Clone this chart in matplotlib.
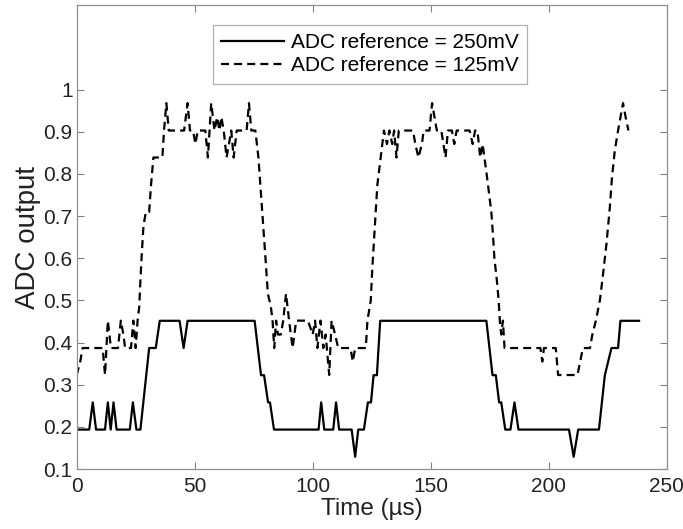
import matplotlib as mpl
mpl.use('Agg')
import matplotlib.pyplot as plt
import numpy as np

plt.rcParams['font.family'] = ['Liberation Sans Narrow', 'Liberation Sans', 'DejaVu Sans']

# ADC levels (fractions of full scale, 5-bit style quantisation)
L0, L1, L2, L3, L4, L5 = 4/31, 6/31, 8/31, 10/31, 12/31, 14/31

# ADC reference = 250mV : breakpoints (time in us, output)
t_250 = [0, 5.3, 6.8, 8.2, 12, 13.2, 14.4, 15.6, 16.9, 22.5, 23.8, 25.3, 27,
         30.7, 33.5, 35.2, 43.6, 45.3, 47, 75.4, 78.1, 79.4, 81.1, 81.9, 83.6,
         102.5, 103.6, 104.9, 108.7, 109.9, 111.2, 116.5, 118, 119.3, 121.7,
         123.4, 124.7, 125.8, 127.2, 128.6, 173.6, 176.2, 177.6, 179, 179.9,
         181.6, 183.8, 185.5, 187.2, 208.6, 210.6, 212.5, 221.3, 223.8, 226.6,
         229.4, 230.4, 238.3]
v_250 = [L1, L1, L2, L1, L1, L2, L1, L2, L1, L1, L2, L1, L1,
         L4, L4, L5, L5, L4, L5, L5, L3, L3, L2, L2, L1,
         L1, L2, L1, L1, L2, L1, L1, L0, L1, L1,
         L2, L2, L3, L3, L5, L5, L3, L3, L2, L2,
         L1, L1, L2, L1, L1, L0, L1, L1, L3, L4,
         L4, L5, L5]

# ADC reference = 125mV : breakpoints (time in us, output)
t_125 = [0, 1.5, 2.5, 11, 12, 13.2, 14.5, 17.5, 18.7, 19.8, 20.5, 23, 24, 25,
         25.8, 26.5, 27, 27.6, 28.3, 29.3, 30.7, 31.5, 32.5, 36.3, 37, 38, 39,
         42.2, 45.5, 47, 48, 49.3, 50.3, 51.3, 54.5, 55.6, 57, 58.4, 59.5,
         60.5, 61.3, 62.3, 63.5, 64.5, 65.5, 66.5, 67.8, 72, 73, 74, 75.7,
         77, 78, 79, 80, 81, 82.3, 83, 83.7, 84.5, 85.3, 86.5, 87.5, 88.7, 90,
         91.5, 93, 98, 100, 101, 102, 103.3, 104.5, 105.5, 107, 108, 109.5,
         110.8, 116, 117, 118, 122.5, 123.2, 124.6, 125.3, 126, 126.7, 127.4,
         128.8, 130.2, 131.5, 132.5, 133.7, 134.5, 135.5, 136.5, 142.5, 143.5,
         144.8, 146.3, 147, 149.5, 150.6, 151.6, 152.6, 154.5, 156.3, 157.3,
         159, 160, 161, 166.5, 167.8, 168.8, 169.8, 171, 172, 173.7, 174.8,
         175.7, 176.4, 177, 178, 178.8, 179.3, 179.9, 180.6, 181.3, 196.5,
         197.3, 198, 203, 204, 212.2, 214.5, 217.5, 218.5, 220, 221.7, 223.1,
         224.5, 225.9, 226.8, 228, 229.4, 231.5, 232.6, 233.8]
v_125 = [0.323, 0.355, 0.387, 0.387, 0.323, 0.452, 0.387, 0.387, 0.452, 0.419,
         0.387, 0.387, 0.452, 0.387, 0.452, 0.484, 0.548, 0.613, 0.677, 0.71,
         0.71, 0.774, 0.839, 0.839, 0.903, 0.968, 0.903,
         0.903, 0.903, 0.968, 0.903, 0.903, 0.871, 0.903, 0.903, 0.839, 0.968,
         0.903, 0.935, 0.903, 0.935, 0.903, 0.839, 0.871, 0.903, 0.839, 0.903,
         0.903, 0.968, 0.903, 0.903,
         0.839, 0.76, 0.68, 0.6, 0.516, 0.484, 0.452, 0.387, 0.452, 0.419,
         0.419, 0.452, 0.516, 0.452, 0.387, 0.452, 0.452, 0.419, 0.452, 0.387,
         0.452, 0.387, 0.419, 0.323, 0.452, 0.419, 0.387, 0.387, 0.355, 0.387,
         0.387, 0.452, 0.5, 0.58, 0.645, 0.71, 0.774, 0.839,
         0.903, 0.871, 0.903, 0.871, 0.903, 0.839, 0.903, 0.903, 0.871,
         0.839, 0.871, 0.903, 0.903, 0.968, 0.935, 0.903, 0.903, 0.839, 0.903,
         0.903, 0.871, 0.903, 0.903, 0.871, 0.903, 0.903, 0.839, 0.871, 0.8,
         0.75, 0.71, 0.655, 0.6, 0.55, 0.5, 0.452, 0.419, 0.452, 0.387, 0.387,
         0.355, 0.387, 0.387, 0.323, 0.323, 0.387, 0.387, 0.419, 0.452, 0.5,
         0.565, 0.635, 0.72, 0.79, 0.855, 0.903, 0.968, 0.935, 0.903]

fig = plt.figure(figsize=(6.83, 5.29), dpi=100)
ax = fig.add_axes([0.1123, 0.1134, 0.8638, 0.8765])

ax.plot(t_250, v_250, color='black', lw=1.6, label='ADC reference = 250mV')
ax.plot(t_125, v_125, color='black', lw=1.6, dashes=(3.6, 2.3),
        label='ADC reference = 125mV')

ax.set_xlim(0, 250)
ax.set_ylim(0.1, 1.2)
ax.set_xticks([0, 50, 100, 150, 200, 250])
ax.set_yticks(np.arange(1, 11) / 10)
ax.set_yticklabels(['0.1', '0.2', '0.3', '0.4', '0.5', '0.6', '0.7', '0.8', '0.9', '1'])
ax.tick_params(direction='in', top=True, right=True, length=5, width=0.8,
               color='#808080', labelsize=15, labelcolor='#222222')
ax.tick_params(axis='x', pad=6)
ax.tick_params(axis='y', pad=3)
for s in ax.spines.values():
    s.set_color('#909090')
    s.set_linewidth(0.9)

ax.set_xlabel('Time (\u00b5s)', fontsize=17.5, color='#222222', labelpad=1)
ax.set_ylabel('ADC output', fontsize=20, color='#222222', labelpad=2)

leg = ax.legend(loc='upper left', bbox_to_anchor=(0.231, 0.958),
                frameon=True, fancybox=False, framealpha=1, edgecolor='#b0b0b0',
                handlelength=3.0, handletextpad=0.35, borderaxespad=0,
                borderpad=0.4, labelspacing=0.2,
                prop={'family': ['Liberation Sans', 'DejaVu Sans'], 'size': 15})
leg.get_frame().set_linewidth(0.9)

fig.savefig('out.png', dpi=100)
